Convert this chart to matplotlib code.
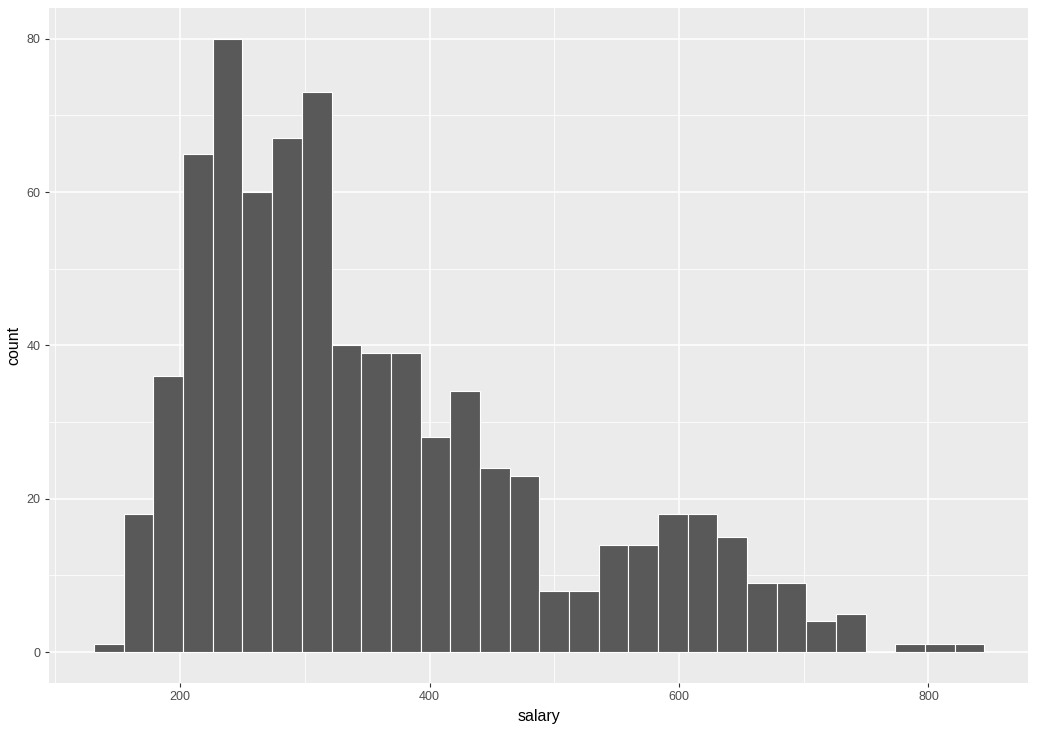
import matplotlib
matplotlib.use("Agg")
import matplotlib.pyplot as plt
import numpy as np

# histogram of salary, 30 bins
BIN_START = 131.0
BIN_WIDTH = 23.79
COUNTS = [1, 18, 36, 65, 80, 60, 67, 73, 40, 39, 39, 28, 34, 24, 23,
          8, 8, 14, 14, 18, 18, 15, 9, 9, 4, 5, 0, 1, 1, 1]
X_TICKS = [200, 400, 600, 800]
Y_TICKS = [0, 20, 40, 60, 80]

plt.rcParams["font.family"] = ["Liberation Sans", "DejaVu Sans"]

fig = plt.figure(figsize=(10.37, 7.33), dpi=100)
ax = fig.add_axes([49 / 1037, 1 - 682.7 / 733, (1028 - 49) / 1037, (682.7 - 8) / 733])

edges = BIN_START + BIN_WIDTH * np.arange(len(COUNTS) + 1)
ax.bar(edges[:-1], COUNTS, width=BIN_WIDTH, align="edge",
       color="#595959", edgecolor="white", linewidth=0.8, zorder=3)

ax.set_facecolor("#EBEBEB")
ax.set_xlim(94.8, 879.8)
ax.set_ylim(-4.0, 84.0)
ax.set_xticks(X_TICKS)
ax.set_yticks(Y_TICKS)
ax.set_xticks([100, 300, 500, 700], minor=True)
ax.set_yticks([10, 30, 50, 70], minor=True)
ax.grid(which="major", color="white", linewidth=1.1, zorder=0)
ax.grid(which="minor", color="white", linewidth=0.55, zorder=0)
ax.set_axisbelow(True)
for s in ax.spines.values():
    s.set_visible(False)
ax.tick_params(which="major", length=3, color="#333333", labelcolor="#4D4D4D",
               labelsize=9, pad=3)
ax.tick_params(which="minor", length=0)
ax.set_xlabel("salary", fontsize=11.5, labelpad=4)
ax.set_ylabel("count", fontsize=11.5, labelpad=4)

fig.savefig("out.png", dpi=100)
